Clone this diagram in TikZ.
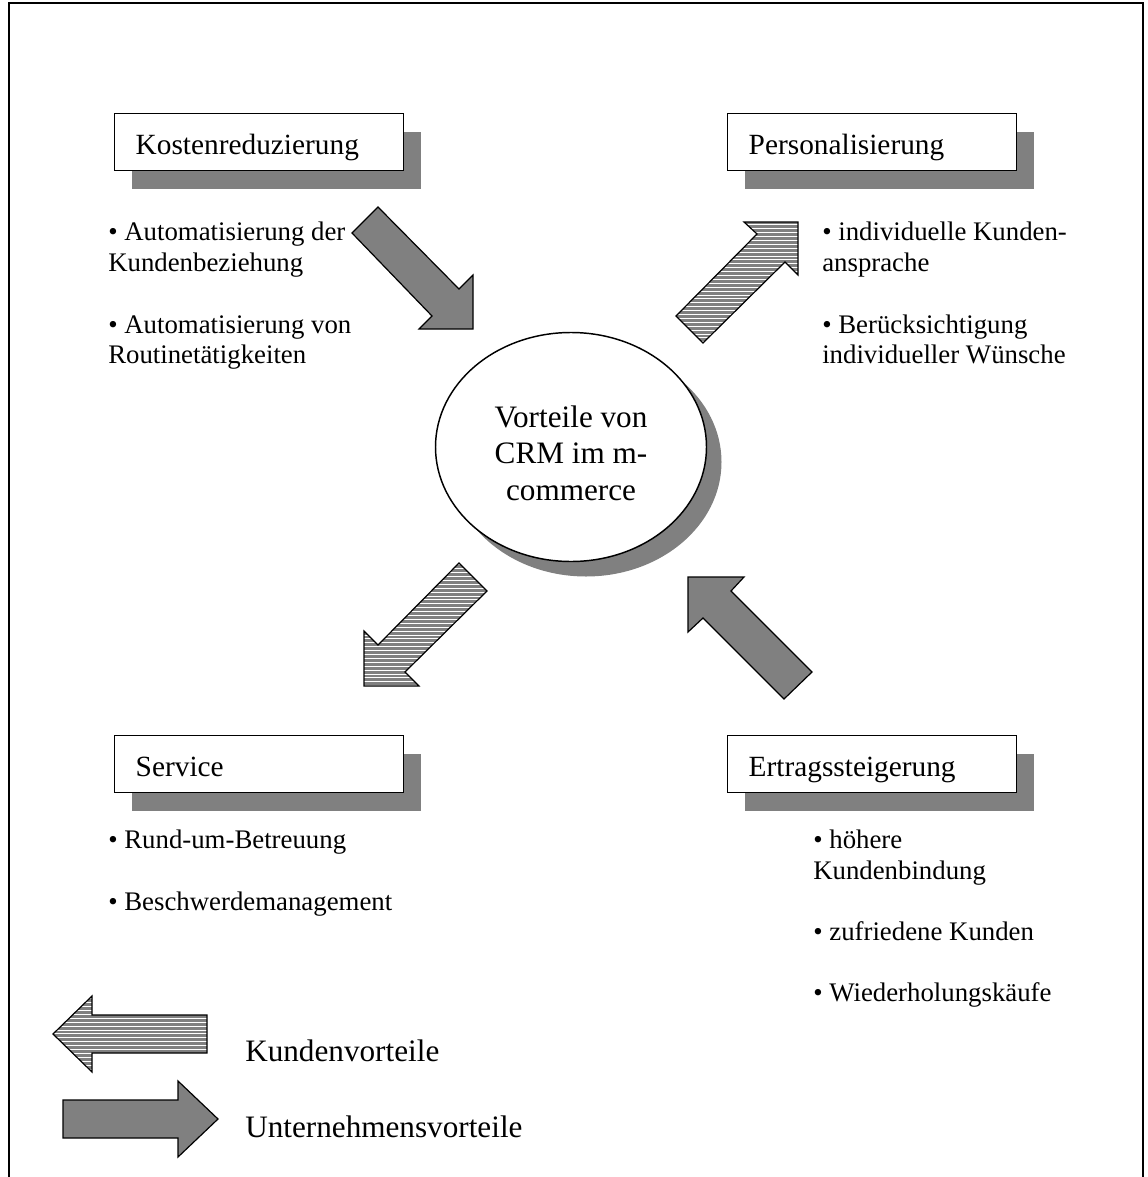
\documentclass[tikz,border=0pt]{standalone}
\usepackage{fontspec}
\setmainfont{Liberation Serif}
\usetikzlibrary{shapes.geometric,shadows}
\definecolor{sgray}{RGB}{128,128,128}
\begin{document}
\begin{tikzpicture}[x=0.75pt,y=-0.75pt,
  boxnode/.style={draw=black, line width=1.1pt, fill=white, anchor=north west,
    text width=185.25pt, inner xsep=15.75pt, inner ysep=0pt, minimum height=42.75pt,
    text height=22.8pt, text depth=4.8pt,
    align=left, font=\fontsize{22}{24}\selectfont,
    drop shadow={shadow xshift=12.75pt, shadow yshift=-13.5pt, fill=sgray, opacity=1}},
  bul/.style={anchor=base west, inner sep=0pt, font=\fontsize{20.1}{23}\selectfont},
  legendtext/.style={anchor=base west, inner sep=0pt, font=\fontsize{23.4}{26}\selectfont},
  arrowline/.style={draw=black, line width=0.9pt, line join=miter},
  hatchline/.style={white, line width=0.75pt},
  kostenpath/.style={insert path={(352,233) -- (378,207) -- (459,289) -- (473,275) -- (473,329) -- (419,329) -- (432,316) -- cycle}},
  persopath/.style={insert path={(676,316) -- (757,234) -- (744,222) -- (798,222) -- (798,275) -- (785,262) -- (703,343) -- cycle}},
  servicepath/.style={insert path={(459,563) -- (487,591) -- (405,672) -- (419,686) -- (364,686) -- (364,631) -- (378,645) -- cycle}},
  ertragpath/.style={insert path={(812,672) -- (731,591) -- (744,577) -- (688,577) -- (688,632) -- (703,618) -- (784,699) -- cycle}},
  kvpath/.style={insert path={(53,1034) -- (92,996) -- (92,1015) -- (207,1015) -- (207,1053) -- (92,1053) -- (92,1072) -- cycle}},
  uvpath/.style={insert path={(63,1100) -- (178,1100) -- (178,1081) -- (218,1119) -- (178,1157) -- (178,1138) -- (63,1138) -- cycle}}
]
\useasboundingbox (0,0) rectangle (1148,1177);
% frame
\draw[line width=1.1pt] (9,1177) -- (9,3) -- (1143,3) -- (1143,1177);

% boxes
\node[boxnode] (kosten) at (114,113) {Kostenreduzierung};
\node[boxnode] (perso) at (727,113) {Personalisierung};
\node[boxnode] (service) at (114,735) {Service};
\node[boxnode] (ertrag) at (727,735) {Ertragssteigerung};

% central ellipse
\node[ellipse, draw=black, line width=1.1pt, fill=white, minimum width=203.25pt,
  minimum height=171.75pt, inner sep=0pt,
  drop shadow={shadow xshift=11.25pt, shadow yshift=-11.25pt, fill=sgray, opacity=1}]
  (vorteile) at (571,447) {};
\node[align=center, inner sep=0pt, font=\fontsize{23.4}{27.4}\selectfont]
  (vorteiletext) at (571,453) {Vorteile von\\CRM im m-\\commerce};

% bullets Kostenreduzierung
\node[bul] (k1) at (108,240) {• Automatisierung der};
\node[bul] (k2) at (108,271) {Kundenbeziehung};
\node[bul] (k3) at (108,333) {• Automatisierung von};
\node[bul] (k4) at (108,363) {Routinetätigkeiten};

% bullets Personalisierung
\node[bul] (p1) at (822,240) {• individuelle Kunden-};
\node[bul] (p2) at (822,271) {ansprache};
\node[bul] (p3) at (822,333) {• Berücksichtigung};
\node[bul] (p4) at (822,363) {individueller Wünsche};

% bullets Service
\node[bul] (s1) at (108,848) {• Rund-um-Betreuung};
\node[bul] (s2) at (108,910) {• Beschwerdemanagement};

% bullets Ertragssteigerung
\node[bul] (e1) at (813,848) {• höhere};
\node[bul] (e2) at (813,879) {Kundenbindung};
\node[bul] (e3) at (813,940) {• zufriedene Kunden};
\node[bul] (e4) at (813,1001) {• Wiederholungskäufe};

% solid arrows
\fill[sgray, kostenpath];
\draw[arrowline, kostenpath];
\fill[sgray, ertragpath];
\draw[arrowline, ertragpath];
\fill[sgray, uvpath];
\draw[arrowline, uvpath];

% hatched arrows
\begin{scope}
  \clip[persopath];
  \fill[sgray] (670,215) rectangle (805,350);
  \foreach \yy in {217,220.9,...,350} \draw[hatchline] (670,\yy) -- (805,\yy);
\end{scope}
\draw[arrowline, persopath];

\begin{scope}
  \clip[servicepath];
  \fill[sgray] (355,555) rectangle (495,695);
  \foreach \yy in {557,560.9,...,695} \draw[hatchline] (355,\yy) -- (495,\yy);
\end{scope}
\draw[arrowline, servicepath];

\begin{scope}
  \clip[kvpath];
  \fill[sgray] (45,990) rectangle (215,1080);
  \foreach \yy in {991,994.9,...,1080} \draw[hatchline] (45,\yy) -- (215,\yy);
\end{scope}
\draw[arrowline, kvpath];

% legend
\node[legendtext] (kv) at (245,1061) {Kundenvorteile};
\node[legendtext] (uv) at (245,1137) {Unternehmensvorteile};
\end{tikzpicture}
\end{document}
